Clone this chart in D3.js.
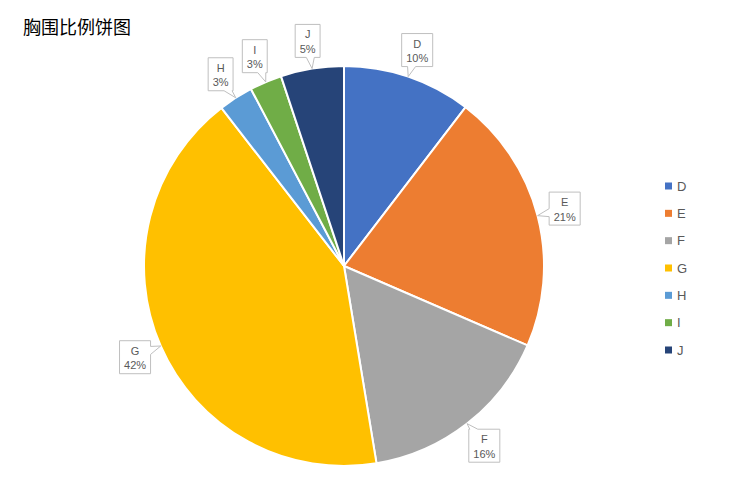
<!DOCTYPE html>
<html>
<head>
<meta charset="utf-8">
<script src="https://cdn.jsdelivr.net/npm/d3@7"></script>
<style>
  html, body { margin: 0; padding: 0; background: #fff; }
  svg { display: block; }
</style>
</head>
<body>
<svg id="chart" width="731" height="479"></svg>
<script>
// ---- data ----
const title = "胸围比例饼图";
const categories = ["D", "E", "F", "G", "H", "I", "J"];
const values = [10.4, 21.1, 15.9, 42.1, 2.8, 2.6, 5.1];
const colors = ["#4472C4", "#ED7D31", "#A5A5A5", "#FFC000", "#5B9BD5", "#70AD47", "#264478"];

// ---- layout ----
const W = 731, H = 479;
const cx = 344, cy = 266, R = 200;
const labelR = 228;

const svg = d3.select("#chart");
svg.append("rect").attr("width", W).attr("height", H).attr("fill", "#fff");

svg.append("text")
  .attr("x", 23).attr("y", 34)
  .attr("font-family", "'Noto Sans CJK SC', sans-serif")
  .attr("font-size", 18)
  .attr("fill", "#000")
  .text(title);

const data = categories.map((c, i) => ({ cat: c, value: values[i], color: colors[i] }));
const total = d3.sum(values);

const pie = d3.pie().sort(null).value(d => d.value);
const arcs = pie(data);
const arcGen = d3.arc().innerRadius(0).outerRadius(R);

const g = svg.append("g").attr("transform", `translate(${cx},${cy})`);
g.selectAll("path.slice")
  .data(arcs)
  .enter().append("path")
  .attr("class", "slice")
  .attr("d", arcGen)
  .attr("fill", d => d.data.color)
  .attr("stroke", "#fff")
  .attr("stroke-width", 2)
  .attr("stroke-linejoin", "round");

// ---- callout labels ----
const fontFamily = "'Liberation Sans', Arial, sans-serif";
const fs = 11;
const measure = svg.append("text").attr("font-family", fontFamily).attr("font-size", fs).attr("visibility", "hidden");
function textW(s) { measure.text(s); return measure.node().getComputedTextLength(); }

const lg = svg.append("g");
arcs.forEach(a => {
  const mid = (a.startAngle + a.endAngle) / 2;
  const pct = d3.format(".0%")(a.data.value / total);
  const bx = cx + labelR * Math.sin(mid), by = cy - labelR * Math.cos(mid);
  const tx = cx + R * Math.sin(mid), ty = cy - R * Math.cos(mid);
  const bw = Math.max(textW(a.data.cat), textW(pct)) + 9;
  const bh = 33;
  const L = bx - bw / 2, Rr = bx + bw / 2, T = by - bh / 2, B = by + bh / 2;
  const dx = tx - bx, dy = ty - by;
  const sx = dx !== 0 ? (bw / 2) / Math.abs(dx) : Infinity;
  const sy = dy !== 0 ? (bh / 2) / Math.abs(dy) : Infinity;
  const hw = 4;
  const clamp = (v, lo, hi) => Math.max(lo, Math.min(hi, v));
  let pts = [];
  if (sy < sx) {
    const ix = clamp(bx + dx * sy, L + hw + 1, Rr - hw - 1);
    if (dy < 0) {
      pts = [[L, T], [ix - hw, T], [tx, ty], [ix + hw, T], [Rr, T], [Rr, B], [L, B]];
    } else {
      pts = [[L, T], [Rr, T], [Rr, B], [ix + hw, B], [tx, ty], [ix - hw, B], [L, B]];
    }
  } else {
    const iy = clamp(by + dy * sx, T + hw + 1, B - hw - 1);
    if (dx > 0) {
      pts = [[L, T], [Rr, T], [Rr, iy - hw], [tx, ty], [Rr, iy + hw], [Rr, B], [L, B]];
    } else {
      pts = [[L, T], [Rr, T], [Rr, B], [L, B], [L, iy + hw], [tx, ty], [L, iy - hw]];
    }
  }
  lg.append("path")
    .attr("d", d3.line()(pts) + "Z")
    .attr("fill", "#fff")
    .attr("stroke", "#BFBFBF")
    .attr("stroke-width", 1);
  lg.append("text")
    .attr("x", bx).attr("y", T + 14)
    .attr("text-anchor", "middle")
    .attr("font-family", fontFamily).attr("font-size", fs)
    .attr("fill", "#595959")
    .text(a.data.cat);
  lg.append("text")
    .attr("x", bx).attr("y", T + 28.5)
    .attr("text-anchor", "middle")
    .attr("font-family", fontFamily).attr("font-size", fs)
    .attr("fill", "#595959")
    .text(pct);
});

// ---- legend ----
const legY = d3.scalePoint().domain(categories).range([186, 350]);
const leg = svg.append("g");
categories.forEach((c, i) => {
  leg.append("rect")
    .attr("x", 665).attr("y", legY(c) - 3.5)
    .attr("width", 7).attr("height", 7)
    .attr("fill", colors[i]);
  leg.append("text")
    .attr("x", 677).attr("y", legY(c) + 4.5)
    .attr("font-family", fontFamily).attr("font-size", 13)
    .attr("fill", "#595959")
    .text(c);
});
</script>
</body>
</html>
